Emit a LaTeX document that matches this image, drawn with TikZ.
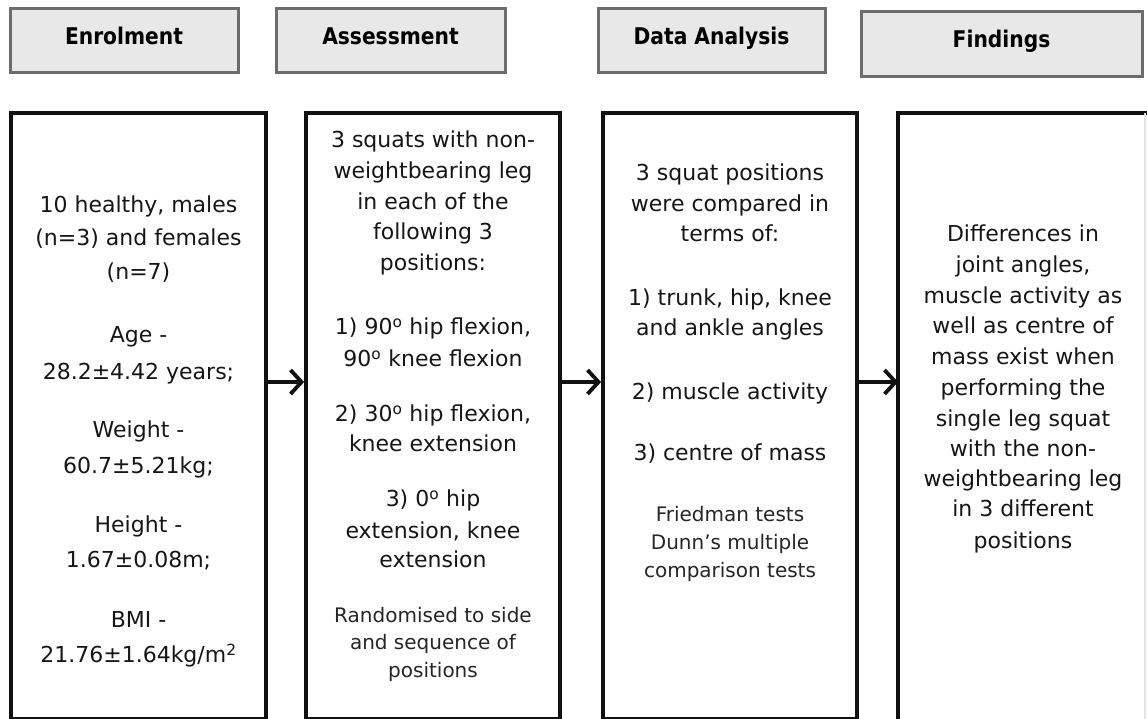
\documentclass[tikz,border=0pt]{standalone}
\usepackage{fontspec}
\setmainfont{DejaVu Sans}
\newfontfamily\headfont{DejaVu Sans Bold}[FakeStretch=0.88]
\def\headsz{23}
\usetikzlibrary{arrows.meta}
\definecolor{txt}{HTML}{161616}
\definecolor{txtb}{HTML}{262626}
\definecolor{hfill}{HTML}{E8E8E8}
\definecolor{hdraw}{HTML}{6C6C6C}
\definecolor{boxc}{HTML}{111111}
\definecolor{faint}{HTML}{E4E4E4}
\begin{document}
\begin{tikzpicture}[x=1pt,y=-1pt,
  headbox/.style={draw=hdraw, fill=hfill, line width=3pt, minimum height=64pt,
    inner sep=0pt, text=black, font=\headfont\fontsize{\headsz}{\headsz}\selectfont,
    text height=17pt, text depth=9pt},
  mainbox/.style={draw=boxc, line width=3.8pt, inner sep=0pt},
  body/.style={font=\fontsize{22}{26}\selectfont, text=txt, anchor=mid, inner sep=0pt},
  smalltxt/.style={font=\fontsize{20}{24}\selectfont, text=txtb, anchor=mid, inner sep=0pt},
  flow/.style={line width=3.8pt, draw=boxc, -{Straight Barb[length=11pt,width=24pt]}}]
\fill[white] (0,0) rectangle (1147,718);
\useasboundingbox (0,0) rectangle (1147,718);

% headers
\node[headbox, minimum width=228pt] (h1) at (124,40) {Enrolment};
\node[headbox, minimum width=229pt] (h2) at (390.5,40) {Assessment};
\node[headbox, minimum width=227pt] (h3) at (711.5,40) {Data Analysis};
\node[headbox, minimum width=281pt, minimum height=65pt] (h4) at (1001.5,43.5) {Findings};

% main boxes
\node[mainbox, minimum width=255pt, minimum height=606pt] (b1) at (138.5,416) {};
\node[mainbox, minimum width=254pt, minimum height=606pt] (b2) at (433,416) {};
\node[mainbox, minimum width=254pt, minimum height=606pt] (b3) at (730,416) {};
\node[mainbox, draw=none, minimum width=243pt, minimum height=604pt] (b4) at (1021.5,417) {};
\draw[line width=3.8pt, draw=boxc] (b4.south west) -- (b4.north west) -- (b4.north east) -- ++(6,0);
\draw[line width=1.5pt, draw=faint] (b4.north east) -- (b4.south east);

% arrows
\coordinate (ay) at (0,382);
\draw[flow] (b1.east |- ay) -- (b2.west |- ay);
\draw[flow] (b2.east |- ay) -- (b3.west |- ay);
\draw[flow] (b3.east |- ay) -- (b4.west |- ay);

% Enrolment text
\foreach \ya/\tx [count=\i] in {210/{10 healthy, males}, 243/{(n=3) and females}, 277/{(n=7)},
  340/{Age -}, 377/{28.2±4.42 years;}, 435/{Weight -}, 471/{60.7±5.21kg;},
  530/{Height -}, 565/{1.67±0.08m;}, 625/{BMI -}}
  \node[body] (e\i) at (138.5,\ya) {\tx};
\node[body] (e11) at (138.5,660) {21.76±1.64kg/m\textsuperscript{2}};

% Assessment text
\foreach \ya/\tx [count=\i] in {145/{3 squats with non-}, 176/{weightbearing leg}, 207/{in each of the},
  237/{following 3}, 268/{positions:},
  332/{1) 90\textsuperscript{o} hip flexion,}, 364/{90\textsuperscript{o} knee flexion},
  419/{2) 30\textsuperscript{o} hip flexion,}, 449/{knee extension},
  504/{3) 0\textsuperscript{o} hip}, 536/{extension, knee}, 565/{extension}}
  \node[body] (s\i) at (433,\ya) {\tx};
\foreach \ya/\tx [count=\i] in {620/{Randomised to side}, 647/{and sequence of}, 675/{positions}}
  \node[smalltxt] (r\i) at (433,\ya) {\tx};

% Data analysis text
\foreach \ya/\tx [count=\i] in {178/{3 squat positions}, 209/{were compared in}, 239/{terms of:},
  303/{1) trunk, hip, knee}, 333/{and ankle angles}, 397/{2) muscle activity},
  458/{3) centre of mass}}
  \node[body] (d\i) at (730,\ya) {\tx};
\foreach \ya/\tx [count=\i] in {519/{Friedman tests}, 547/{Dunn's multiple}, 575/{comparison tests}}
  \node[smalltxt] (t\i) at (730,\ya) {\tx};

% Findings text
\foreach \ya/\tx [count=\i] in {239/{Differences in}, 270/{joint angles,}, 301/{muscle activity as},
  331/{well as centre of}, 362/{mass exist when}, 393/{performing the}, 424/{single leg squat},
  454/{with the non-}, 484/{weightbearing leg}, 514/{in 3 different}, 546/{positions}}
  \node[body] (f\i) at (1023,\ya) {\tx};
\end{tikzpicture}
\end{document}
